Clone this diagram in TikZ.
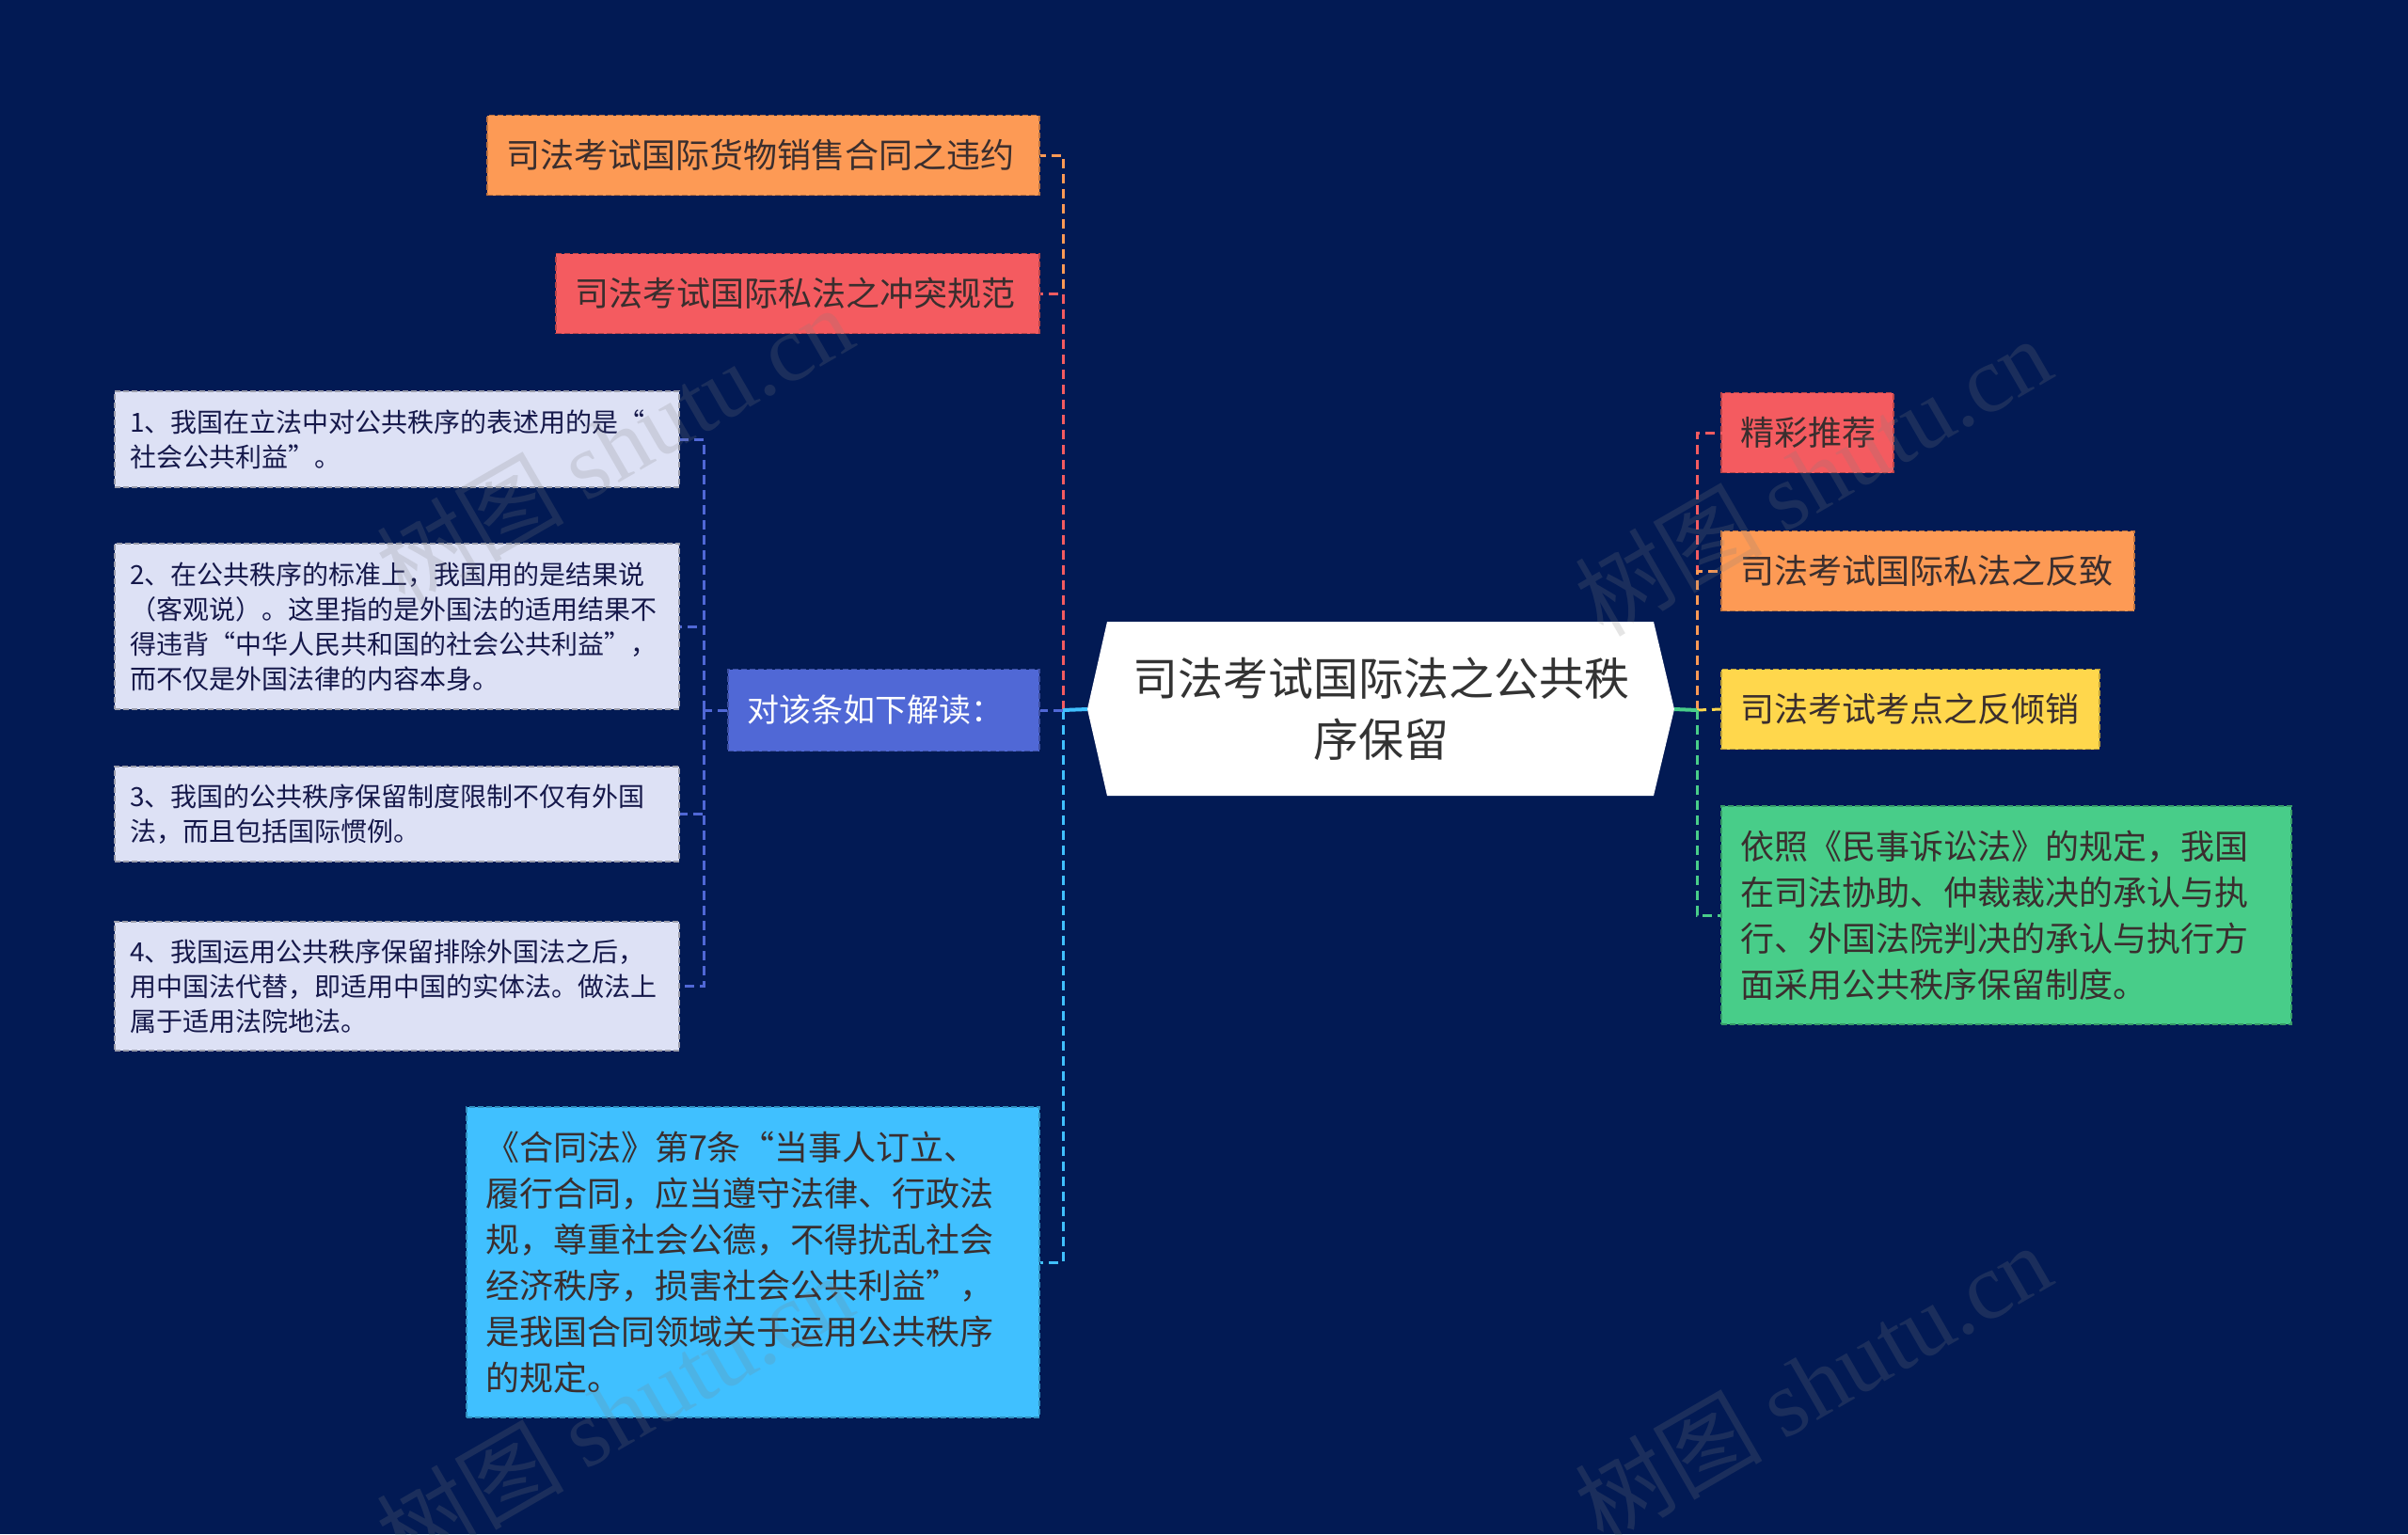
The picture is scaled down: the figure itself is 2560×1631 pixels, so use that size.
\documentclass[tikz,border=0pt]{standalone}
\usepackage{fontspec}
\setmainfont{Noto Sans CJK SC}
\newfontfamily\wmfont{Liberation Serif}
\definecolor{bg}{HTML}{021A54}
\definecolor{cOrange}{HTML}{FD9A55}
\definecolor{cRed}{HTML}{F45B60}
\definecolor{cYellow}{HTML}{FFD74C}
\definecolor{cGreen}{HTML}{48CD89}
\definecolor{cCyan}{HTML}{40C0FF}
\definecolor{cBlue}{HTML}{5068D6}
\definecolor{cLav}{HTML}{DDE1F5}
\definecolor{txt}{HTML}{3A2E2E}
\definecolor{txtnavy}{HTML}{15184A}
\begin{document}
\begin{tikzpicture}[x=1pt,y=-1pt,
  box/.style={rectangle, inner xsep=20pt, inner ysep=0pt, align=left,
    dash pattern=on 6pt off 3pt, line width=1.5pt, text=txt,
    font=\fontsize{36}{49}\selectfont},
  smallbox/.style={box, fill=cLav, draw=cLav!70!black, text=txtnavy, inner xsep=16pt,
    font=\fontsize{28}{37}\selectfont},
  link/.style={line width=3pt, dash pattern=on 10pt off 6pt},
  solidlink/.style={line width=4pt},
  wm/.style={text=gray, opacity=0.2, rotate=30, font=\fontsize{100}{100}\selectfont}
]
\useasboundingbox (0,0) rectangle (2560,1631);
\fill[bg] (0,0) rectangle (2560,1631);

% ---- center node ----
\coordinate (Cw) at (1156,754);
\coordinate (Cnw) at (1177,661);
\coordinate (Cne) at (1758,661);
\coordinate (Ce) at (1780,754);
\coordinate (Cse) at (1758,846);
\coordinate (Csw) at (1177,846);
\fill[white] (Cw) -- (Cnw) -- (Cne) -- (Ce) -- (Cse) -- (Csw) -- cycle;
\node[align=center, text=black!80, font=\fontsize{48}{65}\selectfont] (C) at (1468,754)
  {司法考试国际法之公共秩\\序保留};

% ---- left children ----
\node[box, fill=cOrange, draw=cOrange!75!black, text width=547pt, minimum height=85pt] (A) at (811.5,165)
  {司法考试国际货物销售合同之违约};
\node[box, fill=cRed, draw=cRed!75!black, text width=474pt, minimum height=85pt] (B) at (848,312)
  {司法考试国际私法之冲突规范};
\node[box, fill=cBlue, draw=cBlue!75!black, text=white, text width=291pt, minimum height=87pt,
  font=\fontsize{34}{45}\selectfont] (I) at (939.5,755)
  {对该条如下解读：};
\node[box, fill=cCyan, draw=cCyan!75!black, text width=569pt, minimum height=330pt] (K) at (800.5,1342)
  {《合同法》第7条“当事人订立、\\履行合同，应当遵守法律、行政法\\规，尊重社会公德，不得扰乱社会\\经济秩序，损害社会公共利益”，\\是我国合同领域关于运用公共秩序\\的规定。};

% ---- items ----
\node[smallbox, text width=568pt, minimum height=102pt] (P1) at (422,467)
  {1、我国在立法中对公共秩序的表述用的是“\\社会公共利益”。};
\node[smallbox, text width=568pt, minimum height=176pt] (P2) at (422,666)
  {2、在公共秩序的标准上，我国用的是结果说\\（客观说）。这里指的是外国法的适用结果不\\得违背“中华人民共和国的社会公共利益”，\\而不仅是外国法律的内容本身。};
\node[smallbox, text width=568pt, minimum height=101pt] (P3) at (422,865.5)
  {3、我国的公共秩序保留制度限制不仅有外国\\法，而且包括国际惯例。};
\node[smallbox, text width=568pt, minimum height=137pt] (P4) at (422,1048.5)
  {4、我国运用公共秩序保留排除外国法之后，\\用中国法代替，即适用中国的实体法。做法上\\属于适用法院地法。};

% ---- right children ----
\node[box, fill=cRed, draw=cRed!75!black, text width=143pt, minimum height=85pt] (R1) at (1921.5,460)
  {精彩推荐};
\node[box, fill=cOrange, draw=cOrange!75!black, text width=399pt, minimum height=85pt] (R2) at (2049.5,607)
  {司法考试国际私法之反致};
\node[box, fill=cYellow, draw=cYellow!75!black, text width=362pt, minimum height=85pt] (R3) at (2031,754)
  {司法考试考点之反倾销};
\node[box, fill=cGreen, draw=cGreen!75!black, text width=566pt, minimum height=232pt] (R4) at (2133,973)
  {依照《民事诉讼法》的规定，我国\\在司法协助、仲裁裁决的承认与执\\行、外国法院判决的承认与执行方\\面采用公共秩序保留制度。};

% ---- connectors left ----
\coordinate (LT) at (1130,755);
\draw[link, cOrange] (LT) |- (A.east);
\draw[link, cRed] (LT) |- (B.east);
\draw[link, cCyan] (LT) |- (K.east);
\draw[link, cBlue] (LT) -- (I.east);
\draw[solidlink, cCyan] (Cw) -- (LT);

\coordinate (ST) at (748,755);
\draw[link, cBlue] (I.west) -- (ST);
\draw[link, cBlue] (ST) |- (P1.east);
\draw[link, cBlue] (ST) |- (P2.east);
\draw[link, cBlue] (ST) |- (P3.east);
\draw[link, cBlue] (ST) |- (P4.east);

% ---- connectors right ----
\coordinate (RT) at (1804,755);
\draw[link, cRed] (RT) |- (R1.west);
\draw[link, cOrange] (RT) |- (R2.west);
\draw[link, cYellow] (RT) -- (R3.west);
\draw[link, cGreen] (RT) |- (R4.west);
\draw[solidlink, cGreen] (Ce) -- (RT);

% ---- watermarks ----
\node[wm] (W1) at (653,473) {树图 {\wmfont shutu.cn}};
\node[wm] (W2) at (1927,506) {树图 {\wmfont shutu.cn}};
\node[wm] (W3) at (653,1502) {树图 {\wmfont shutu.cn}};
\node[wm] (W4) at (1927,1470) {树图 {\wmfont shutu.cn}};
\end{tikzpicture}
\end{document}
